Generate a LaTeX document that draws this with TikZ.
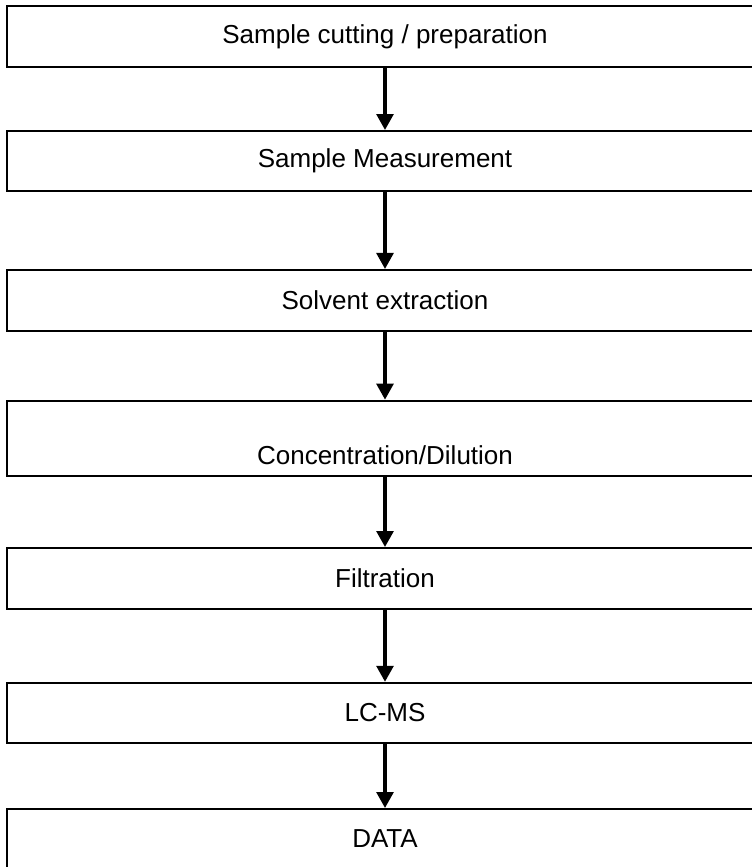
\documentclass[tikz,border=0pt]{standalone}
\usepackage{fontspec}
\setmainfont{Liberation Sans}
\usepackage{tikz}
\usetikzlibrary{positioning}
\usetikzlibrary{arrows.meta}
\tikzset{>={Triangle[width=0.42cm,length=0.4cm]}}
\tikzset{
  stepbox/.style={draw, line width=1.4pt, minimum width=18.9cm,
    minimum height=1.5cm, inner sep=0pt,
    font=\fontsize{18.5}{22}\selectfont},
  flow/.style={->, line width=2.4pt}
}

\begin{document}
\begin{tikzpicture}[scale=1]

% Page frame
\useasboundingbox (0,0) rectangle (18.8,21.675);

% ---------- Steps ----------
\node[stepbox, minimum height=1.5175cm] (cut)  at (9.625,20.7675) {Sample cutting / preparation};
\node[stepbox] (meas) at (9.625,17.65) {Sample Measurement};
\node[stepbox, minimum height=1.5175cm] (extr) at (9.625,14.1675) {Solvent extraction};
\node[stepbox, minimum height=1.8825cm, text height=1.3cm] (conc) at (9.625,10.7175) {Concentration/Dilution};
\node[stepbox, minimum height=1.525cm] (filt) at (9.625,7.2125) {Filtration};
\node[stepbox] (lcms) at (9.625,3.855) {LC-MS};
\node[stepbox] (data) at (9.625,0.7) {DATA};

% ---------- Arrows ----------
\draw[flow] (cut.south)  -- (meas.north);
\draw[flow] (meas.south) -- (extr.north);
\draw[flow] (extr.south) -- (conc.north);
\draw[flow] (conc.south) -- (filt.north);
\draw[flow] (filt.south) -- (lcms.north);
\draw[flow] (lcms.south) -- (data.north);

\end{tikzpicture}
\end{document}
